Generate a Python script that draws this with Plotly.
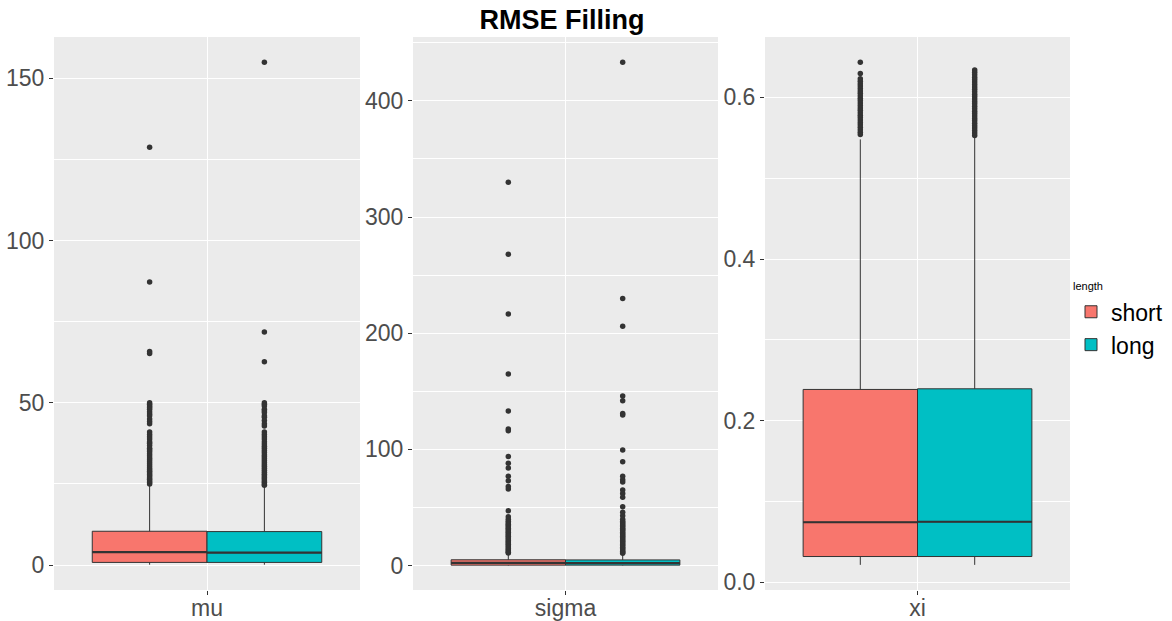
import plotly.graph_objects as go

# ---------------- data ----------------
params = ["mu", "sigma", "xi"]
groups = ["short", "long"]
colors = {"short": "#F8766D", "long": "#00BFC4"}

# box statistics: [lowerfence, q1, median, q3, upperfence]
mu_short_stats = [0.1, 0.8, 4.0, 10.4, 24.4]
mu_long_stats = [0.1, 0.8, 3.8, 10.3, 24.2]
sigma_short_stats = [0.05, 0.4, 2.3, 5.0, 10.5]
sigma_long_stats = [0.05, 0.4, 2.2, 4.9, 10.4]
xi_short_stats = [0.0217, 0.032, 0.0744, 0.2387, 0.548]
xi_long_stats = [0.0217, 0.032, 0.0750, 0.2395, 0.5506]

mu_short_out = [128.7, 87.2, 65.8, 65.2, 50.0, 49.5, 49.0, 48.5, 48.0, 47.2, 46.5, 46.0,
                45.0, 44.2, 43.5, 41.0, 40.2, 39.5, 38.8, 38.0, 37.5, 36.8, 36.0, 35.5,
                35.0, 34.3, 33.7, 33.0, 32.4, 31.8, 31.2, 30.6, 30.0, 29.4, 28.9, 28.4,
                27.9, 27.4, 26.9, 26.4, 25.9, 25.4, 25.0]
mu_long_out = [154.9, 71.8, 62.6, 50.0, 49.5, 49.0, 48.0, 47.5, 47.0, 46.0, 45.5, 44.5,
               43.5, 42.8, 41.0, 40.2, 39.5, 38.8, 38.0, 37.3, 36.6, 36.0, 35.3, 34.7,
               34.0, 33.4, 32.8, 32.2, 31.6, 31.0, 30.4, 29.8, 29.2, 28.6, 28.0, 27.5,
               27.0, 26.5, 26.0, 25.5, 25.0, 24.6]
sigma_short_out = [330, 268, 216.6, 165, 133, 117.5, 116, 94, 88, 84, 77, 73, 68, 66,
                   47.3, 42, 40, 38.2, 36.9, 35.7, 34.6, 33.4, 32.1, 31.0, 29.8, 28.7,
                   27.5, 26.3, 25.2, 24.0, 22.9, 21.7, 20.6, 19.4, 18.3, 17.1, 16.0,
                   14.8, 13.7, 12.5, 11.4, 10.8]
sigma_long_out = [433.3, 230, 206, 146, 142, 131, 129.6, 99.5, 89.4, 77, 74, 72, 65, 62,
                  58.8, 50.7, 45.9, 43, 40, 38.1, 36.9, 35.8, 34.6, 33.4, 32.2, 31.0,
                  29.9, 28.7, 27.5, 26.4, 25.2, 24.0, 22.9, 21.7, 20.5, 19.4, 18.2,
                  17.0, 15.9, 14.7, 13.5, 12.4, 11.2, 10.7]
xi_short_out = [0.6436, 0.6296, 0.623, 0.620, 0.617, 0.614, 0.611, 0.608, 0.605, 0.602,
                0.599, 0.596, 0.593, 0.590, 0.587, 0.584, 0.581, 0.578, 0.575, 0.572,
                0.569, 0.566, 0.563, 0.560, 0.557, 0.554]
xi_long_out = [0.634, 0.631, 0.628, 0.625, 0.622, 0.619, 0.616, 0.613, 0.610, 0.607,
               0.604, 0.601, 0.598, 0.595, 0.592, 0.589, 0.586, 0.583, 0.580, 0.577,
               0.574, 0.571, 0.568, 0.565, 0.562, 0.559, 0.556, 0.553]

stats = {
    "mu": {"short": mu_short_stats, "long": mu_long_stats},
    "sigma": {"short": sigma_short_stats, "long": sigma_long_stats},
    "xi": {"short": xi_short_stats, "long": xi_long_stats},
}
outliers = {
    "mu": {"short": mu_short_out, "long": mu_long_out},
    "sigma": {"short": sigma_short_out, "long": sigma_long_out},
    "xi": {"short": xi_short_out, "long": xi_long_out},
}

y_ranges = {"mu": [-7.7, 162.7], "sigma": [-21.0, 455.0], "xi": [-0.0094, 0.6747]}
y_dtick = {"mu": 50, "sigma": 100, "xi": 0.2}
y_fmt = {"mu": "d", "sigma": "d", "xi": ".1f"}

# ---------------- layout geometry ----------------
W, H = 1172, 621
L, R, T, B = 54, 102, 37, 31
plot_w = W - L - R
plot_h = H - T - B
domains = [
    [0.0, 306 / plot_w],
    [(413 - L) / plot_w, (718 - L) / plot_w],
    [(765 - L) / plot_w, 1.0],
]
box_w = 0.45
offsets = {"short": -0.225, "long": 0.225}

fig = go.Figure()
TXT = "#4D4D4D"
FONT = "Liberation Sans, Arial, sans-serif"

for i, p in enumerate(params):
    ax = "" if i == 0 else str(i + 1)
    for g in groups:
        s = stats[p][g]
        pos = 1 + offsets[g]
        fig.add_trace(go.Box(
            x=[pos], lowerfence=[s[0]], q1=[s[1]], median=[s[2]], q3=[s[3]],
            upperfence=[s[4]], width=box_w, whiskerwidth=0,
            fillcolor=colors[g], line=dict(color="#333333", width=1),
            boxpoints=False, name=g, legendgroup=g, showlegend=(i == 0),
            xaxis="x" + ax, yaxis="y" + ax, hoverinfo="skip",
        ))
        # thicker median line (ggplot fatten)
        fig.add_trace(go.Scatter(
            x=[pos - box_w / 2, pos + box_w / 2], y=[s[2], s[2]], mode="lines",
            line=dict(color="#333333", width=2.2), showlegend=False,
            xaxis="x" + ax, yaxis="y" + ax, hoverinfo="skip",
        ))
        o = outliers[p][g]
        fig.add_trace(go.Scatter(
            x=[pos] * len(o), y=o, mode="markers",
            marker=dict(color="#333333", size=5.5), showlegend=False,
            xaxis="x" + ax, yaxis="y" + ax, hoverinfo="skip",
        ))

layout = dict(
    width=W, height=H,
    margin=dict(l=L, r=R, t=T, b=B, pad=0, autoexpand=False),
    paper_bgcolor="white", plot_bgcolor="#EBEBEB",
    boxmode="overlay",
    font=dict(family=FONT, color=TXT, size=22),
    title=dict(text="<b>RMSE Filling</b>", x=0.5, xref="paper", xanchor="center",
               y=1 - 20 / H, yref="container", yanchor="middle",
               font=dict(family=FONT, size=27, color="black")),
    legend=dict(
        x=(1071 - L) / plot_w, xanchor="left", y=(H - B - 276) / plot_h, yanchor="top",
        title=dict(text="length", font=dict(size=11, color="black"), side="top"),
        font=dict(size=23, color="black"), tracegroupgap=0, bgcolor="rgba(0,0,0,0)",
        itemwidth=30,
    ),
)
for i, p in enumerate(params):
    ax = "" if i == 0 else str(i + 1)
    layout["xaxis" + ax] = dict(
        domain=domains[i], range=[0.4, 1.6], tickvals=[1], ticktext=[p],
        showgrid=True, gridcolor="white", gridwidth=1.1, zeroline=False,
        ticks="outside", ticklen=4, tickcolor="#333333", tickwidth=1,
        tickfont=dict(size=23, color=TXT), anchor="y" + ax, showline=False,
        automargin=False, ticklabelstandoff=-7,
    )
    layout["yaxis" + ax] = dict(
        domain=[0, 1], range=y_ranges[p], dtick=y_dtick[p], tick0=0,
        tickformat=y_fmt[p],
        showgrid=True, gridcolor="white", gridwidth=1.1, zeroline=False,
        minor=dict(dtick=y_dtick[p] / 2, tick0=0, showgrid=True, gridcolor="white",
                   gridwidth=0.5, ticks=""),
        ticks="outside", ticklen=4, tickcolor="#333333", tickwidth=1,
        tickfont=dict(size=23, color=TXT), anchor="x" + ax, showline=False,
        automargin=False,
    )
fig.update_layout(**layout)

fig.write_html("out.html")
